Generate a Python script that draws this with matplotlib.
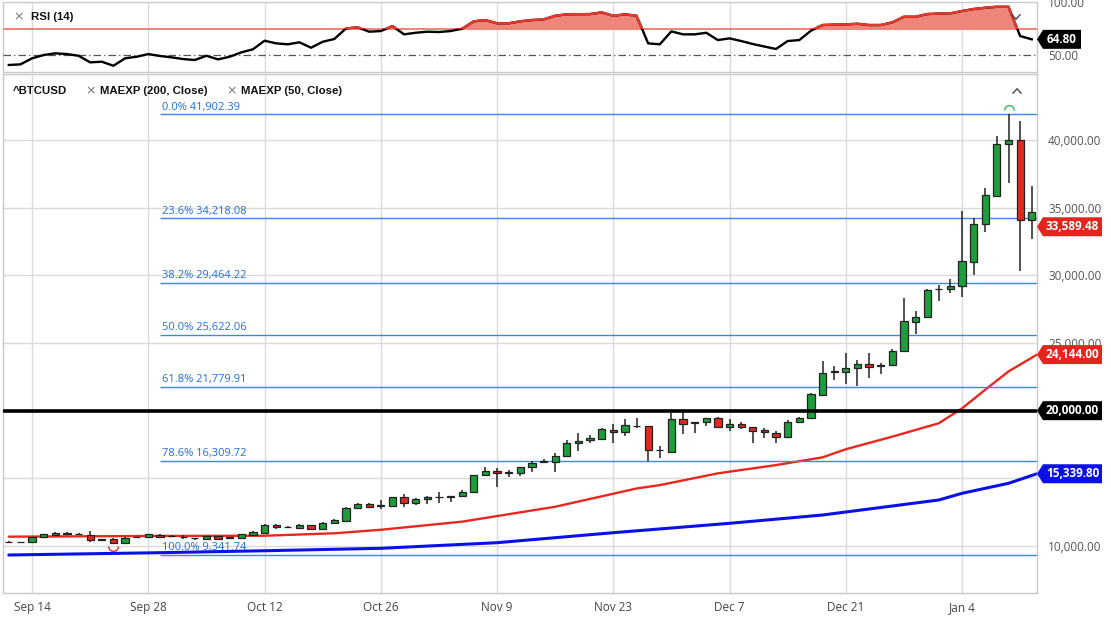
import numpy as np
import pandas as pd
import matplotlib
matplotlib.use("Agg")
import matplotlib.pyplot as plt
from matplotlib.patches import Rectangle, Polygon
from matplotlib.lines import Line2D
from matplotlib.path import Path
from matplotlib.transforms import IdentityTransform

# ---------------- data ----------------
dates = pd.bdate_range("2020-09-10", "2021-01-12")

opens = [10260, 10290, 10273, 10643, 10813, 10900, 10900, 10813, 10500, 10518,
         10200, 10630, 10665, 10813, 10750, 10660, 10580, 10520, 10715, 10560,
         10617, 10835, 10983, 11576, 11420, 11330, 11527, 11280, 11680, 11870,
         12787, 13126, 12990, 12980, 13600, 13155, 13450, 13590, 13600, 13720,
         13990, 15220, 15540, 15410, 15370, 15815, 16220, 16230, 16675, 17590,
         17810, 17930, 18600, 18420, 18860, 18870, 17080, 16970, 19360, 19100,
         19140, 19480, 18790, 19040, 18770, 18590, 18330, 18080, 19180, 19430,
         21160, 22870, 22880, 23130, 23430, 23310, 23375, 24410, 26570, 26900,
         28960, 28990, 29240, 31010, 33770, 35885, 39700, 40000, 34090]
highs = [10340, 10330, 10680, 10910, 11060, 11000, 10950, 11110, 10540, 10560,
         10640, 10700, 10900, 10880, 10790, 10813, 10620, 10750, 10760, 10680,
         10900, 11100, 11600, 11650, 11470, 11600, 11580, 11740, 11960, 12880,
         13200, 13200, 13380, 13650, 13820, 13520, 13680, 14020, 13720, 14150,
         15250, 15860, 15740, 15616, 15860, 16250, 16400, 16900, 17800, 18350,
         18200, 18700, 18993, 19385, 19430, 18900, 17410, 19850, 19925, 19180,
         19480, 19520, 19385, 19200, 18830, 18700, 18520, 19300, 19520, 21300,
         23670, 23270, 24290, 23720, 24260, 23500, 24557, 28350, 27390, 29000,
         29290, 29730, 34780, 34210, 36430, 40320, 41902.39, 41430, 36600]
lows = [10210, 10230, 10250, 10620, 10760, 10830, 10830, 10320, 10420, 10150,
        10170, 10590, 10640, 10620, 10690, 10495, 10420, 10490, 10480, 10520,
        10570, 10800, 10950, 11290, 11340, 11300, 11240, 11250, 11640, 11840,
        12700, 12800, 12760, 12950, 12900, 13000, 13100, 13200, 13275, 13650,
        13950, 15180, 14380, 15120, 15200, 15490, 16100, 15460, 16600, 17040,
        17590, 17800, 17634, 18130, 18700, 16280, 16480, 16850, 18255, 18370,
        18890, 18750, 18520, 18650, 17630, 17960, 17590, 18050, 19100, 19380,
        21100, 22230, 21970, 21860, 22420, 22710, 23300, 24350, 25680, 26850,
        28100, 28720, 28380, 30020, 33180, 35850, 36850, 30340, 32670]
closes = [10290, 10280, 10643, 10865, 10983, 10920, 10880, 10444, 10480, 10200,
          10617, 10650, 10865, 10665, 10730, 10640, 10560, 10715, 10520, 10640,
          10865, 11035, 11552, 11385, 11400, 11552, 11280, 11700, 11900, 12830,
          13104, 12900, 12970, 13600, 13155, 13473, 13620, 13610, 13700, 13990,
          15225, 15540, 15370, 15430, 15815, 16155, 16240, 16675, 17635, 17780,
          18000, 18630, 18450, 18920, 18880, 17070, 17100, 19360, 19040, 19120,
          19430, 18790, 19040, 18790, 18500, 18400, 18080, 19180, 19430, 21210,
          22760, 22890, 23130, 23430, 23250, 23330, 24430, 26630, 26900, 28920,
          28980, 29240, 31080, 33790, 35940, 39700, 40000, 34090, 34700]

rsi = [40.6, 41.2, 46.9, 50.0, 51.6, 50.9, 49.3, 43.1, 43.7, 39.9,
       46.9, 48.4, 50.9, 49.1, 47.8, 46.2, 45.3, 49.3, 45.9, 48.4,
       52.5, 55.4, 63.5, 61.0, 60.1, 62.0, 56.9, 62.5, 65.1, 75.0,
       76.1, 72.0, 72.6, 77.3, 69.5, 71.0, 72.0, 71.7, 72.6, 74.8,
       81.8, 83.0, 79.9, 79.9, 81.8, 83.0, 83.6, 87.0, 88.4, 88.5,
       88.6, 90.2, 87.0, 88.4, 87.0, 61.0, 60.1, 72.3, 69.5, 69.5,
       71.0, 64.1, 65.7, 63.2, 60.4, 58.0, 55.7, 63.2, 64.1, 72.9,
       78.3, 78.7, 78.9, 79.5, 78.3, 78.3, 80.8, 86.1, 86.1, 88.6,
       89.1, 89.3, 91.5, 93.4, 94.6, 95.5, 95.5, 67.9, 64.8]

# EMA curves read at these dates; the last value is the one shown at the right edge
ema50_dates = ["2020-09-10", "2020-09-28", "2020-10-12", "2020-10-20", "2020-10-26",
               "2020-11-04", "2020-11-16", "2020-11-25", "2020-11-27", "2020-12-04",
               "2020-12-11", "2020-12-17", "2020-12-21", "2020-12-25", "2020-12-31",
               "2021-01-04", "2021-01-06", "2021-01-08"]
ema50_vals = [10690, 10740, 10760, 10940, 11200, 11800, 12900, 14250, 14500, 15370,
              15980, 16550, 17150, 18080, 19070, 20170, 21550, 22900]
ema50_last = 24144.00
ema200_dates = ["2020-09-10", "2020-09-29", "2020-10-12", "2020-10-26", "2020-11-09",
                "2020-11-23", "2020-12-07", "2020-12-17", "2020-12-31", "2021-01-04",
                "2021-01-08"]
ema200_vals = [9336, 9506, 9650, 9830, 10245, 10984, 11677, 12291, 13400, 13894,
               14633]
ema200_last = 15339.80

fib_pcts = ["0.0%", "23.6%", "38.2%", "50.0%", "61.8%", "78.6%", "100.0%"]
fib_vals = [41902.39, 34218.08, 29464.22, 25622.06, 21779.91, 16309.72, 9341.74]
fib_start = "2020-09-29"

level_line = 20000.00
last_price = 33589.48
rsi_last = 64.80
rsi_upper = 75
rsi_mid = 50
high_mark_date = "2021-01-08"
low_mark_date = "2020-09-23"

tick_dates = ["2020-09-14", "2020-09-28", "2020-10-12", "2020-10-26", "2020-11-09",
              "2020-11-23", "2020-12-07", "2020-12-21", "2021-01-04"]
tick_labels = ["Sep 14", "Sep 28", "Oct 12", "Oct 26", "Nov 9", "Nov 23",
               "Dec 7", "Dec 21", "Jan 4"]
price_grid = [10000, 15000, 20000, 25000, 30000, 35000, 40000]
price_labels = [10000, 25000, 30000, 35000, 40000]   # others sit under the value tags

# ---------------- figure ----------------
W, H = 1111, 623
fig = plt.figure(figsize=(W / 100, H / 100), dpi=100)
fig.patch.set_facecolor("white")

def rect(l, t, r, b):
    return [l / W, 1 - b / H, (r - l) / W, (b - t) / H]

ax = fig.add_axes(rect(3, 74, 1037, 593))
axr = fig.add_axes(rect(3, 2, 1037, 72))

n = len(dates)
x = np.arange(n)
pos = {d: i for i, d in enumerate(dates)}
def idx(s):
    return pos[pd.Timestamp(s)]

XLIM = (-0.5, n - 0.55)
GRID = "#dadada"
SPINE = "#c9c9c9"
LABEL_C = "#555555"

for a in (ax, axr):
    a.set_xlim(*XLIM)
    for s in a.spines.values():
        s.set_color(SPINE)
        s.set_linewidth(1.0)
    a.tick_params(length=0)
    a.set_xticks([idx(d) for d in tick_dates])
    a.xaxis.grid(True, color=GRID, lw=1.0)
    a.set_axisbelow(True)

ax.set_ylim(6528, 44877)
ax.set_xticklabels(tick_labels, fontsize=8.5, color="#444444", family="Open Sans")
ax.tick_params(axis="x", pad=5.5)
ax.yaxis.tick_right()
ax.set_yticks(price_grid)
ax.set_yticklabels([f"{v:,.2f}" if v in price_labels else "" for v in price_grid],
                   fontsize=8.5, color=LABEL_C, family="Open Sans")
ax.tick_params(axis="y", pad=8)
ax.yaxis.grid(True, color=GRID, lw=1.0)

# EMA lines (run to the right edge where the tag sits)
ax.plot([idx(d) for d in ema200_dates] + [XLIM[1]], ema200_vals + [ema200_last],
        color="#0b10e6", lw=2.2, zorder=2, solid_capstyle="round")
ax.plot([idx(d) for d in ema50_dates] + [XLIM[1]], ema50_vals + [ema50_last],
        color="#e8281e", lw=1.7, zorder=2, solid_capstyle="round")

# Fibonacci lines
fs = idx(fib_start)
for p, v in zip(fib_pcts, fib_vals):
    ax.hlines(v, fs, XLIM[1], color="#3b86e6", lw=1.0, zorder=2)
    ax.annotate(f"{p} {v:,.2f}", (fs, v), xytext=(1.5, 1.2), textcoords="offset points",
                fontsize=8, color="#1f6fe0", family="Open Sans", va="bottom", ha="left",
                zorder=6)

# candles
ax.vlines(x, lows, highs, color="#222222", lw=1.1, zorder=3)
bw = 0.62
for i in range(n):
    o, c = opens[i], closes[i]
    lo, hi = min(o, c), max(o, c)
    h = max(hi - lo, 30)
    col = "#1f9d3c" if c >= o else "#e3281e"
    ax.add_patch(Rectangle((i - bw / 2, lo), bw, h, facecolor=col, edgecolor="#222222",
                           lw=0.9, zorder=4))

# 20k level
ax.axhline(level_line, color="black", lw=2.6, zorder=5)

# high / low marks
ppx = (44877 - 6528) / (593 - 74)
hi_i = idx(high_mark_date)
ax.plot([hi_i], [highs[hi_i] + 4 * ppx], marker=Path.arc(0, 180), ms=7, mfc="none",
        mec="#2dbb55", mew=1.0, zorder=6)
lo_i = idx(low_mark_date)
ax.plot([lo_i], [lows[lo_i] - 2 * ppx], marker=Path.arc(180, 360), ms=7, mfc="none",
        mec="#e8281e", mew=1.0, zorder=6)

# ---------------- RSI panel ----------------
axr.set_ylim(34, 100)
axr.set_xticklabels([])
axr.yaxis.tick_right()
axr.set_yticks([100, 50])
axr.set_yticklabels(["100.00", "50.00"], fontsize=8.5, color=LABEL_C, family="Open Sans")
axr.tick_params(axis="y", pad=8)
r = np.array(rsi)
axr.fill_between(x, r, rsi_upper, where=r >= rsi_upper, interpolate=True,
                 color="#f08579", lw=0, zorder=2)
axr.axhline(rsi_upper, color="#f07a72", lw=1.3, zorder=3)
axr.axhline(rsi_mid, color="#555555", lw=0.9, ls=(0, (6, 2.5, 1, 2.5)), zorder=3)
axr.plot(x, r, color="black", lw=1.7, zorder=4)
red_line, = axr.plot(x, r, color="#e8372b", lw=1.7, zorder=5)
clip = Rectangle((XLIM[0] - 1, rsi_upper), n + 2, 30, transform=axr.transData)
red_line.set_clip_path(clip)

# ---------------- legends / labels ----------------
def ftext(px, py, s, **kw):
    fig.text(px / W, 1 - py / H, s, **kw)

lab = dict(fontsize=8.2, weight="bold", family="Liberation Sans", color="#111111",
           va="center", ha="left")
grey_x = dict(fontsize=9, family="DejaVu Sans", color="#777777", va="center", ha="left")
ftext(13, 17, "\u00d7", **grey_x)
ftext(31, 17, "RSI (14)", **lab)
ftext(13, 90.5, "^BTCUSD", **lab)
ftext(85, 90.5, "\u00d7", **grey_x)
ftext(100, 90.5, "MAEXP (200, Close)", **lab)
ftext(226, 90.5, "\u00d7", **grey_x)
ftext(241, 90.5, "MAEXP (50, Close)", **lab)

# collapse / expand chevrons (drawn in pixel space)
def chevron(cx, cy, up):
    d = -1 if up else 1
    xs = [cx - 4, cx, cx + 4]
    ys = [H - (cy - 2.2 * d), H - (cy + 2.2 * d), H - (cy - 2.2 * d)]
    fig.add_artist(Line2D(xs, ys, transform=IdentityTransform(), color="#444444", lw=1.0))

chevron(1016, 17, up=False)
chevron(1017, 91, up=True)

# value tags
def tag(a, value, color, right=1102):
    yd = a.transData.transform((0, value))[1]
    xl = 1037
    hh = 9.5
    pts = [(xl, yd), (xl + 6, yd + hh), (right, yd + hh), (right, yd - hh), (xl + 6, yd - hh)]
    fig.add_artist(Polygon(pts, closed=True, transform=IdentityTransform(),
                           facecolor=color, edgecolor="none", zorder=10))
    fig.text((xl + 6 + right) / 2 / W, yd / H, f"{value:,.2f}", color="white",
             fontsize=8.5, weight="bold", family="Open Sans", ha="center", va="center",
             zorder=11)

tag(ax, last_price, "#e3261c")
tag(ax, ema50_last, "#e3261c")
tag(ax, level_line, "black")
tag(ax, ema200_last, "#0b10e6")
tag(axr, rsi_last, "black", right=1081)

fig.savefig("out.png", dpi=100)
